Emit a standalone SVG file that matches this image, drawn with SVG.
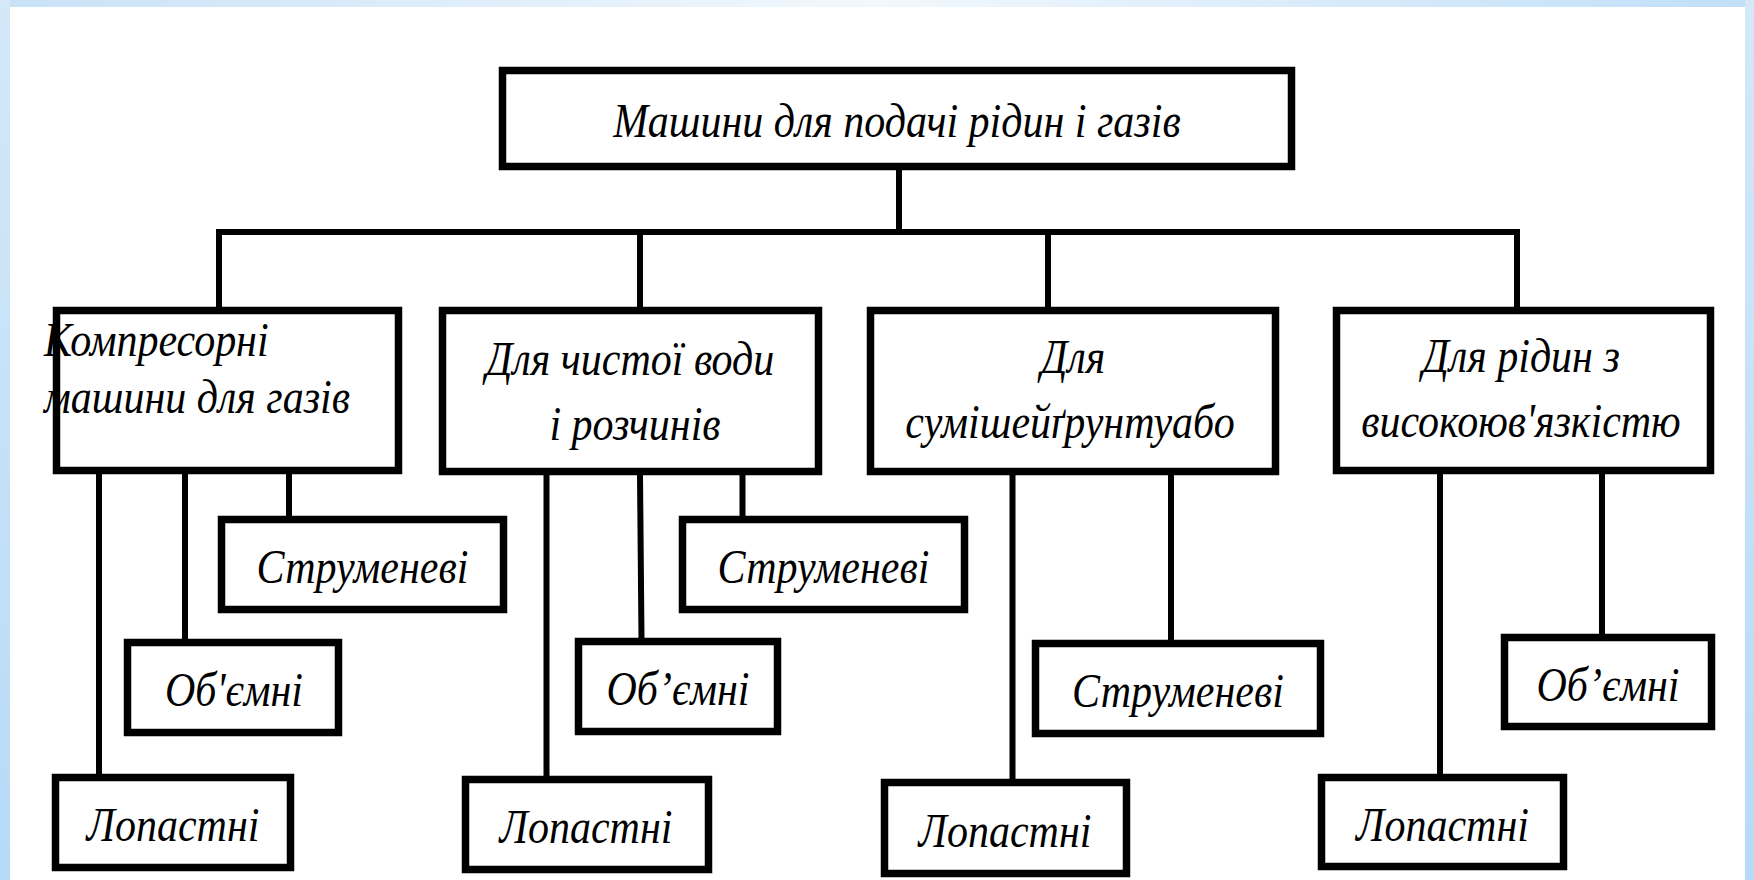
<svg xmlns="http://www.w3.org/2000/svg" width="1754" height="880" viewBox="0 0 1754 880">
  <defs>
    <linearGradient id="bg" x1="0" y1="0" x2="1" y2="0">
      <stop offset="0" stop-color="#c9e2f7"/>
      <stop offset="0.5" stop-color="#f2f8fd"/>
      <stop offset="1" stop-color="#c0dff8"/>
    </linearGradient>
    <linearGradient id="side" x1="0" y1="0" x2="0" y2="1">
      <stop offset="0" stop-color="#d4e8f8"/>
      <stop offset="1" stop-color="#b6daf7"/>
    </linearGradient>
  </defs>
  <style>
    .box { fill: #ffffff; stroke: #000000; stroke-width: 7.5; }
    .ln { stroke: #000000; stroke-width: 6; fill: none; stroke-linecap: square; }
    .t { font-family: "Liberation Serif", "Times New Roman", serif; font-style: italic; font-size: 42px; fill: #000000; text-anchor: middle; }
    .ts { text-anchor: start; }
  </style>
  <rect x="0" y="0" width="1754" height="880" fill="url(#bg)"/>
  <rect x="0" y="0" width="10" height="880" fill="url(#side)"/>
  <rect x="1745" y="0" width="9" height="880" fill="url(#side)"/>
  <rect x="10" y="7" width="1735" height="873" fill="#ffffff"/>

  <g id="connectors">
    <line class="ln" x1="899" y1="170" x2="899" y2="232"/>
    <line class="ln" x1="219" y1="232" x2="1517" y2="232"/>
    <line class="ln" x1="219" y1="232" x2="219" y2="307"/>
    <line class="ln" x1="640" y1="232" x2="640" y2="307"/>
    <line class="ln" x1="1048" y1="232" x2="1048" y2="307"/>
    <line class="ln" x1="1517" y1="232" x2="1517" y2="307"/>
    <line class="ln" x1="99" y1="474" x2="99" y2="774"/>
    <line class="ln" x1="185" y1="474" x2="185" y2="639"/>
    <line class="ln" x1="289" y1="474" x2="289" y2="516"/>
    <line class="ln" x1="546.5" y1="475" x2="546.5" y2="776"/>
    <line class="ln" x1="640" y1="475" x2="641.5" y2="638"/>
    <line class="ln" x1="742.5" y1="475" x2="742.5" y2="516"/>
    <line class="ln" x1="1012.5" y1="475" x2="1012.5" y2="779"/>
    <line class="ln" x1="1171" y1="475" x2="1171" y2="640"/>
    <line class="ln" x1="1440" y1="474" x2="1440" y2="774"/>
    <line class="ln" x1="1602" y1="474" x2="1602" y2="634"/>
  </g>

  <g id="root">
    <rect class="box" x="502.5" y="70.5" width="789" height="96"/>
    <text class="t" transform="translate(897 137) scale(1 1.18)">Машини для подачі рідин і газів</text>
  </g>

  <g id="compressor">
    <rect class="box" x="56.5" y="310.5" width="342" height="160"/>
    <text class="t ts" transform="translate(44 356) scale(1 1.18)">Компресорні</text>
    <text class="t ts" transform="translate(44 413) scale(1 1.18)">машини для газів</text>
  </g>
  <g id="clean-water">
    <rect class="box" x="442.5" y="310.5" width="376" height="161"/>
    <text class="t" transform="translate(630 375) scale(1 1.18)">Для чистої води</text>
    <text class="t" transform="translate(635 440) scale(1 1.18)">і розчинів</text>
  </g>
  <g id="mixtures">
    <rect class="box" x="870.5" y="310.5" width="405" height="161"/>
    <text class="t" transform="translate(1073 373) scale(1 1.18)">Для</text>
    <text class="t" transform="translate(1070 438) scale(1 1.18)">сумішейґрунтуабо</text>
  </g>
  <g id="viscous">
    <rect class="box" x="1336.5" y="310.5" width="374" height="160"/>
    <text class="t" transform="translate(1521 372) scale(1 1.18)">Для рідин з</text>
    <text class="t" transform="translate(1521 437) scale(1 1.18)">високоюв'язкістю</text>
  </g>

  <g id="jet-1">
    <rect class="box" x="221.5" y="519.5" width="282" height="90"/>
    <text class="t" transform="translate(362.5 583) scale(1 1.18)">Струменеві</text>
  </g>
  <g id="volumetric-1">
    <rect class="box" x="127.5" y="642.5" width="211" height="90"/>
    <text class="t" transform="translate(234 706) scale(1 1.18)">Об'ємні</text>
  </g>
  <g id="vane-1">
    <rect class="box" x="55.5" y="777.5" width="235" height="90"/>
    <text class="t" transform="translate(173 841) scale(1 1.18)">Лопастні</text>
  </g>

  <g id="jet-2">
    <rect class="box" x="682.5" y="519.5" width="282" height="90"/>
    <text class="t" transform="translate(823.5 583) scale(1 1.18)">Струменеві</text>
  </g>
  <g id="volumetric-2">
    <rect class="box" x="578.5" y="641.5" width="199" height="90"/>
    <text class="t" transform="translate(678 705) scale(1 1.18)">Об’ємні</text>
  </g>
  <g id="vane-2">
    <rect class="box" x="465.5" y="779.5" width="243" height="90"/>
    <text class="t" transform="translate(586 843) scale(1 1.18)">Лопастні</text>
  </g>

  <g id="jet-3">
    <rect class="box" x="1035.5" y="643.5" width="285" height="90"/>
    <text class="t" transform="translate(1178 707) scale(1 1.18)">Струменеві</text>
  </g>
  <g id="vane-3">
    <rect class="box" x="884.5" y="782.5" width="242" height="91"/>
    <text class="t" transform="translate(1005 846.5) scale(1 1.18)">Лопастні</text>
  </g>

  <g id="volumetric-4">
    <rect class="box" x="1504.5" y="637.5" width="207" height="89"/>
    <text class="t" transform="translate(1608 700.5) scale(1 1.18)">Об’ємні</text>
  </g>
  <g id="vane-4">
    <rect class="box" x="1321.5" y="777.5" width="242" height="89"/>
    <text class="t" transform="translate(1442.5 840.5) scale(1 1.18)">Лопастні</text>
  </g>
</svg>
